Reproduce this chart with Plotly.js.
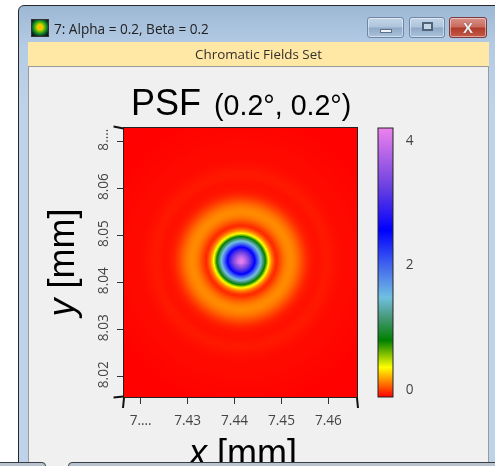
<!DOCTYPE html>
<html>
<head>
<meta charset="utf-8">
<script src="https://cdn.plot.ly/plotly-3.0.1.min.js"></script>
<style>
html,body{margin:0;padding:0;background:#fff;width:495px;height:466px;overflow:hidden;font-family:"Open Sans",sans-serif}
#all{position:absolute;left:0;top:0;width:495px;height:466px;overflow:hidden;filter:blur(0.4px)}
.a{position:absolute;box-sizing:border-box}
.btn{top:17px;height:21px;border-radius:3px;border:1px solid #6f87a3;background:linear-gradient(#c4d6e8 0%,#adc4dc 48%,#8fa9c6 52%,#a9c3dc 100%);box-shadow:inset 0 0 0 1px rgba(255,255,255,.45)}
</style>
</head>
<body>
<div id="all">
<div class="a" style="left:18px;top:5px;width:490px;height:470px;border:1px solid #26282c;border-radius:6px 6px 0 0;background:linear-gradient(#9db8d5 0px,#b4cbe3 40px,#bcd3ea 100px)"></div>
<div class="a" style="left:31px;top:19px;width:18px;height:18px;background:radial-gradient(circle at 50% 45%,#ffa000 0,#ffd000 18%,#70c000 38%,#108030 58%,#0a2a1a 80%,#0a0a0a 100%);border:1px solid #333"></div>
<div class="a" style="left:54px;top:20px;font-size:13.6px;line-height:18px;color:#222;white-space:nowrap">7: Alpha = 0.2, Beta = 0.2</div>
<div class="a btn" style="left:367px;width:37px"><div class="a" style="left:12px;top:11px;width:12px;height:4px;background:#eef3f8;border:1px solid #5d6f85"></div></div>
<div class="a btn" style="left:409px;width:36px"><div class="a" style="left:12px;top:4px;width:11px;height:9px;background:#c5d6e7;border:2px solid #4f6379"></div></div>
<div class="a btn" style="left:449px;width:38px;border-color:#7c3b3f;background:linear-gradient(#d9928a 0%,#c9695d 48%,#b03a2a 52%,#c55a48 100%)"><div class="a" style="left:10px;top:1px;width:16px;text-align:center;font:bold 15px/17px 'Liberation Sans',sans-serif;color:#f0eeee;text-shadow:0 0 1px #5a2a2a">X</div></div>
<div class="a" style="left:28px;top:42px;width:461px;height:25px;background:#ffe8a6;color:#33302a;font-size:13.4px;line-height:25px;text-align:center">Chromatic Fields Set</div>
<div class="a" style="left:28px;top:66px;width:461px;height:400px;background:#f0f0f0;border:1px solid #9a9a9a;border-bottom:0"></div>
<div class="a" id="plot" style="left:0;top:0;width:495px;height:466px"></div>
<div class="a" style="left:46px;top:462px;width:22px;height:4px;background:#f0f0f0"></div>
<div class="a" style="left:-6px;top:462px;width:52px;height:8px;background:#b9c3cf;border:1px solid #3a3d44;border-radius:4px 4px 0 0"></div>
<div class="a" style="left:68px;top:462px;width:440px;height:8px;background:#b9c3cf;border:1px solid #3a3d44;border-radius:4px 4px 0 0"></div>
</div>
<script>
// Values. The field is rotationally symmetric, so it is
// stored as one radial profile (colour read at each radius against the colour bar)
// and the 2-D heatmap is looked up from that profile.
var radiusUm = [0,0.64,1.28,1.91,2.55,2.98,3.62,4.26,4.68,5.21,5.85,6.6,7.45,8.94,9.79,10.64,11.49,12.34,13.19,14.26,15.32,16.6,17.87,18.7,19.58,21.28,25.11,29.79,38.3];
var profileZ = [4.19,4.02,3.65,3.25,2.85,2.55,1.98,1.47,1.17,0.78,0.345,0.09,-0.065,0.07,0.12,0.13,0.10,0.05,-0.01,-0.07,-0.095,-0.1,-0.085,-0.085,-0.095,-0.11,-0.115,-0.125,-0.13];
var centreX = 7.4413, centreY = 8.0448;
var xRange = [7.41645, 7.4661], yRange = [8.0157, 8.0729];
var zRange = [-0.13, 4.19];
var xTickVals = [7.42,7.43,7.44,7.45,7.46], xTickText = ['7....','7.43','7.44','7.45','7.46'];
var yTickVals = [8.02,8.03,8.04,8.05,8.06,8.07], yTickText = ['8.02','8.03','8.04','8.05','8.06','8....'];
var barTicks = [0,2,4];
var colorStops = [[0,'#ff0000'],[0.11,'#ffff00'],[0.21,'#008000'],[0.30,'#4a9a80'],[0.37,'#70c0e0'],[0.495,'#3f60f0'],[0.62,'#0000ff'],[0.78,'#6a40e0'],[1,'#ee82ee']];

function lookup(r){
  for(var i=1;i<radiusUm.length;i++){
    if(r<=radiusUm[i]){var t=(r-radiusUm[i-1])/(radiusUm[i]-radiusUm[i-1]);return profileZ[i-1]+t*(profileZ[i]-profileZ[i-1]);}
  }
  return profileZ[profileZ.length-1];
}
var nx=118, ny=135, gx=[], gy=[], gz=[];
for(var i=0;i<nx;i++) gx.push(xRange[0]+(i+0.5)*(xRange[1]-xRange[0])/nx);
for(var j=0;j<ny;j++) gy.push(yRange[0]+(j+0.5)*(yRange[1]-yRange[0])/ny);
gy.forEach(function(y){gz.push(gx.map(function(x){
  var dx=(x-centreX)*1000, dy=(y-centreY)*1000;
  return lookup(Math.sqrt(dx*dx+dy*dy));
}));});

var L=123.5,R=357.5,T=127.5,B=397,W=495,H=466;
function px(p){return (p-L)/(R-L);}
function py(p){return (B-p)/(B-T);}
function seg(x0,y0,x1,y1){return {type:'line',xref:'paper',yref:'paper',x0:px(x0),y0:py(y0),x1:px(x1),y1:py(y1),line:{color:'#111',width:2},layer:'above'};}
var tickFont={family:'Open Sans, sans-serif',size:13.6,color:'#444'};
var layout={
  width:W,height:H,
  paper_bgcolor:'rgba(0,0,0,0)',plot_bgcolor:'rgba(0,0,0,0)',
  margin:{l:L,r:W-R,t:T,b:H-B,pad:0},
  title:{text:'PSF\u200A <span style="font-size:28.6px">(0.2°, 0.2°)</span>',font:{family:'Liberation Sans, sans-serif',size:36,color:'#000'},x:131/W,xanchor:'left',xref:'container',y:1-115/H,yref:'container',yanchor:'bottom',pad:{t:0,b:0,l:0,r:0}},
  xaxis:{range:xRange,tickmode:'array',tickvals:xTickVals,ticktext:xTickText,ticks:'outside',ticklen:6,tickwidth:1,tickcolor:'#333',tickfont:tickFont,tickangle:0,ticklabelstandoff:5,showgrid:false,zeroline:false,showline:true,linecolor:'#222',linewidth:1,mirror:true,automargin:false},
  yaxis:{range:yRange,tickmode:'array',tickvals:yTickVals,ticktext:yTickText,ticks:'outside',ticklen:6,tickwidth:1,tickcolor:'#333',tickfont:tickFont,tickangle:-90,ticklabelstandoff:4,showgrid:false,zeroline:false,showline:true,linecolor:'#222',linewidth:1,mirror:true,automargin:false,
    title:{text:'<i>y</i> [mm]\u200A\u200A',font:{family:'Liberation Sans, sans-serif',size:36,color:'#000'},standoff:6}},
  annotations:[{text:'<i>x</i> [mm]',xref:'paper',yref:'paper',x:px(242.5),y:py(431),xanchor:'center',yanchor:'top',showarrow:false,borderpad:0,font:{family:'Liberation Sans, sans-serif',size:36,color:'#000'}}],
  shapes:[seg(123.5,398,122.5,408),seg(357.5,398,358.5,408),seg(123,396.5,113,397.5),seg(123,128,113,126)]
};
var trace={type:'heatmap',x:gx,y:gy,z:gz,zmin:zRange[0],zmax:zRange[1],zsmooth:'best',colorscale:colorStops,hoverinfo:'skip',
  colorbar:{thicknessmode:'pixels',thickness:15,lenmode:'fraction',len:1,x:px(379),xref:'paper',xanchor:'left',y:0,yref:'paper',yanchor:'bottom',xpad:0,ypad:0,outlinecolor:'#222',outlinewidth:1,borderwidth:0,tickmode:'array',tickvals:barTicks,ticktext:barTicks.map(String),ticks:'outside',ticklen:10,tickcolor:'rgba(0,0,0,0)',tickfont:tickFont}
};
Plotly.newPlot('plot',[trace],layout,{displayModeBar:false,staticPlot:true});
</script>
</body>
</html>
